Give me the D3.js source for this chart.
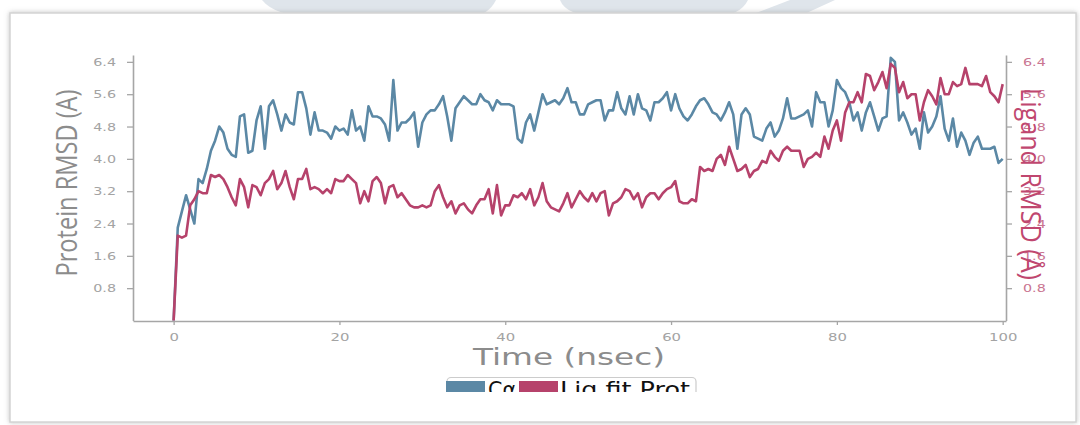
<!DOCTYPE html>
<html>
<head>
<meta charset="utf-8">
<script src="https://cdn.jsdelivr.net/npm/d3@7"></script>
<style>
  html, body { margin: 0; padding: 0; background: #ffffff; }
  svg { display: block; }
</style>
</head>
<body>
<svg id="chart" width="1080" height="425"></svg>
<script>
// Sampling step of the trajectory (nsec)
const timeStep = 0.5;

// C-alpha RMSD, one row per 5 nsec
const caRmsd = [
  0, 2.3, 2.7, 3.1, 2.75, 2.4, 3.5, 3.4, 3.75, 4.2,
  4.45, 4.8, 4.65, 4.25, 4.1, 4.05, 5.05, 5.1, 4.15, 4.2,
  4.95, 5.3, 4.25, 5.3, 5.45, 5.1, 4.7, 5.1, 4.9, 4.85,
  5.65, 5.65, 5.25, 4.6, 5.15, 4.7, 4.7, 4.65, 4.5, 4.8,
  4.7, 4.75, 4.6, 5.2, 4.7, 4.8, 4.45, 5.3, 5.05, 5.05,
  5.0, 4.85, 4.45, 5.95, 4.7, 4.9, 4.9, 5.0, 5.15, 4.3,
  4.9, 5.1, 5.2, 5.2, 5.35, 5.55, 5.05, 4.45, 5.25, 5.4,
  5.55, 5.45, 5.35, 5.35, 5.6, 5.45, 5.4, 5.2, 5.45, 5.35,
  5.35, 5.35, 5.3, 4.5, 4.4, 4.9, 5.1, 4.7, 5.15, 5.6,
  5.35, 5.4, 5.45, 5.35, 5.5, 5.75, 5.4, 5.4, 5.1, 5.1,
  5.35, 5.4, 5.45, 5.45, 4.95, 5.2, 5.2, 5.65, 5.25, 5.1,
  5.55, 5.1, 5.6, 5.25, 5.2, 4.95, 5.4, 5.4, 5.5, 5.65,
  5.2, 5.6, 5.25, 5.05, 4.95, 5.1, 5.3, 5.45, 5.5, 5.35,
  5.15, 5.1, 4.95, 5.15, 5.4, 5.1, 4.25, 5.1, 5.25, 5.1,
  4.55, 4.5, 4.45, 4.75, 4.9, 4.55, 4.7, 5.0, 5.5, 5.0,
  5.0, 5.05, 5.1, 5.2, 4.8, 5.65, 5.4, 5.4, 4.8, 5.2,
  5.95, 5.75, 5.65, 5.4, 4.95, 5.15, 4.7, 5.15, 5.4, 5.05,
  4.7, 5.0, 5.05, 6.5, 6.4, 4.95, 5.15, 4.9, 4.6, 4.75,
  4.25, 5.15, 4.65, 4.8, 5.05, 5.55, 4.75, 4.45, 5.0, 4.3,
  4.65, 4.45, 4.1, 4.4, 4.55, 4.25, 4.25, 4.25, 4.3, 3.9,
  4.0
];

// Ligand RMSD (fit on protein), one row per 5 nsec
const ligRmsd = [
  0, 2.1, 2.05, 2.1, 2.85, 3.0, 3.2, 3.15, 3.15, 3.6,
  3.55, 3.6, 3.5, 3.3, 3.05, 2.85, 3.5, 3.3, 2.8, 3.35,
  3.3, 3.1, 3.4, 3.5, 3.7, 3.25, 3.4, 3.7, 3.3, 3.0,
  3.5, 3.5, 3.75, 3.25, 3.3, 3.25, 3.15, 3.25, 3.15, 3.5,
  3.45, 3.45, 3.6, 3.5, 3.4, 2.9, 3.2, 2.95, 3.45, 3.55,
  3.4, 2.9, 3.3, 3.35, 3.05, 3.15, 3.0, 2.85, 2.8, 2.8,
  2.85, 2.8, 2.85, 3.2, 3.35, 3.05, 2.8, 2.95, 2.65, 2.85,
  2.9, 2.75, 2.65, 2.85, 3.0, 3.0, 3.25, 2.65, 3.35, 2.6,
  2.85, 2.85, 3.1, 3.05, 3.15, 3.0, 3.25, 2.85, 3.05, 3.4,
  2.95, 2.8, 2.75, 2.7, 2.9, 3.15, 2.8, 3.0, 3.2, 3.05,
  2.95, 3.15, 2.95, 3.15, 3.2, 2.6, 2.9, 2.95, 3.05, 3.25,
  3.2, 3.0, 3.15, 2.8, 3.05, 3.15, 3.15, 3.0, 3.15, 3.25,
  3.3, 3.45, 2.95, 2.9, 2.9, 3.0, 2.95, 3.8, 3.7, 3.75,
  3.7, 4.0, 4.1, 3.85, 4.3, 4.0, 3.7, 3.75, 3.85, 3.55,
  3.7, 3.75, 3.95, 3.9, 4.2, 4.05, 3.95, 4.2, 4.3, 4.2,
  4.2, 4.2, 3.8, 4.0, 4.05, 4.15, 4.05, 4.55, 4.25, 4.7,
  4.95, 4.45, 5.15, 5.4, 5.4, 5.65, 5.4, 6.1, 6.05, 5.7,
  5.9, 6.15, 5.75, 6.35, 6.25, 5.65, 5.9, 5.5, 5.6, 5.6,
  4.95, 5.4, 5.7, 5.55, 5.35, 6.0, 5.6, 5.6, 5.9, 5.8,
  5.85, 6.25, 5.85, 5.85, 5.85, 5.8, 6.05, 5.65, 5.55, 5.4,
  5.85
];

const xTicks = [0, 20, 40, 60, 80, 100];
const yTicks = [0.8, 1.6, 2.4, 3.2, 4.0, 4.8, 5.6, 6.4];

const seriesNames = ['C\u03b1', 'Lig fit Prot'];
const blue = '#5b88a5';
const red = '#b6426b';

const svg = d3.select('#chart');

// Stretch text horizontally, the source picture is widened
function stretch(sel, factor) {
  sel.each(function() {
    const len = this.getComputedTextLength();
    d3.select(this)
      .attr('textLength', len * factor)
      .attr('lengthAdjust', 'spacingAndGlyphs');
  });
}

// Faint watermark shapes above the card
const wm = svg.append('g').attr('fill', '#dfe5eb');
wm.append('path').attr('d', 'M262,0 Q275,16 310,16 L470,16 Q488,16 496,0 Z');
wm.append('path').attr('d', 'M560,0 Q566,16 600,16 L715,16 Q740,16 748,0 Z');
wm.append('path').attr('d', 'M748,16 L800,16 L835,0 L790,0 Z');

// Card with soft shadow
const defs = svg.append('defs');
const shadow = defs.append('filter').attr('id', 'shadow')
  .attr('x', '-5%').attr('y', '-5%').attr('width', '110%').attr('height', '110%');
shadow.append('feDropShadow')
  .attr('dx', 0).attr('dy', 0).attr('stdDeviation', 2.5)
  .attr('flood-color', '#9a9a9a').attr('flood-opacity', 0.6);

svg.append('rect')
  .attr('x', 10).attr('y', 13)
  .attr('width', 1066).attr('height', 409)
  .attr('fill', '#ffffff')
  .attr('stroke', '#d4d4d4')
  .attr('stroke-width', 1.5)
  .attr('filter', 'url(#shadow)');

// Scales
const x = d3.scaleLinear().domain([-4.9, 100.4]).range([133, 1006]);
const y = d3.scaleLinear().domain([0, 6.57]).range([320.5, 55]);

const axisColor = '#a6a6a6';

// Left axis
const gLeft = svg.append('g')
  .attr('transform', 'translate(133,0)')
  .call(d3.axisLeft(y).tickValues(yTicks).tickSize(6).tickSizeOuter(0)
    .tickPadding(11).tickFormat(d3.format('.1f')));

// Right axis
const gRight = svg.append('g')
  .attr('transform', 'translate(1006,0)')
  .call(d3.axisRight(y).tickValues(yTicks).tickSize(6).tickSizeOuter(0)
    .tickPadding(11).tickFormat(d3.format('.1f')));

// Bottom axis
const gBottom = svg.append('g')
  .attr('transform', 'translate(0,321)')
  .call(d3.axisBottom(x).tickValues(xTicks).tickSize(4).tickSizeOuter(0)
    .tickPadding(8).tickFormat(d3.format('d')));

[gLeft, gRight, gBottom].forEach(g => {
  g.select('.domain').attr('stroke', axisColor).attr('stroke-width', 1.6);
  g.selectAll('.tick line').attr('stroke', axisColor).attr('stroke-width', 1.3);
  g.selectAll('.tick text')
    .attr('font-family', 'DejaVu Sans')
    .attr('font-size', 11)
    .attr('fill', '#a3a3a3');
});
gRight.selectAll('.tick text').attr('fill', '#c97591');

stretch(gLeft.selectAll('.tick text'), 1.3);
stretch(gRight.selectAll('.tick text'), 1.3);
stretch(gBottom.selectAll('.tick text'), 1.35);

// Lines
const line = d3.line()
  .x((d, i) => x(i * timeStep))
  .y(d => y(d));

svg.append('path')
  .datum(caRmsd)
  .attr('fill', 'none')
  .attr('stroke', blue)
  .attr('stroke-width', 2.6)
  .attr('stroke-linejoin', 'round')
  .attr('d', line);

svg.append('path')
  .datum(ligRmsd)
  .attr('fill', 'none')
  .attr('stroke', red)
  .attr('stroke-width', 2.6)
  .attr('stroke-linejoin', 'round')
  .attr('d', line);

// Axis titles
svg.append('text')
  .attr('transform', 'translate(77,183) rotate(-90)')
  .attr('text-anchor', 'middle')
  .attr('font-family', 'Open Sans')
  .attr('font-size', 30)
  .attr('fill', '#8c8c8c')
  .attr('textLength', 187)
  .attr('lengthAdjust', 'spacingAndGlyphs')
  .text('Protein RMSD (A)');

svg.append('text')
  .attr('transform', 'translate(1021,184) rotate(90)')
  .attr('text-anchor', 'middle')
  .attr('font-family', 'Open Sans')
  .attr('font-size', 27)
  .attr('fill', '#c0476f')
  .attr('textLength', 192)
  .attr('lengthAdjust', 'spacingAndGlyphs')
  .text('Ligand RMSD (\u00c5)');

svg.append('text')
  .attr('x', 569).attr('y', 365)
  .attr('text-anchor', 'middle')
  .attr('font-family', 'DejaVu Sans')
  .attr('font-size', 23)
  .attr('fill', '#8c8c8c')
  .attr('textLength', 192)
  .attr('lengthAdjust', 'spacingAndGlyphs')
  .text('Time (nsec)');

// Legend, cut off at the bottom like the source
defs.append('clipPath').attr('id', 'legendClip')
  .append('rect').attr('x', 430).attr('y', 370).attr('width', 290).attr('height', 22);

const legend = svg.append('g').attr('clip-path', 'url(#legendClip)');

legend.append('rect')
  .attr('x', 447).attr('y', 377.5)
  .attr('width', 249).attr('height', 30)
  .attr('rx', 4)
  .attr('fill', '#ffffff')
  .attr('stroke', '#cccccc')
  .attr('stroke-width', 1.2);

const legendItems = [
  { name: seriesNames[0], color: blue, swatchX: 446, textX: 488, textLen: 28 },
  { name: seriesNames[1], color: red, swatchX: 519, textX: 560, textLen: 130 }
];

legendItems.forEach(d => {
  legend.append('rect')
    .attr('x', d.swatchX).attr('y', 381)
    .attr('width', 39).attr('height', 14)
    .attr('fill', d.color);
  legend.append('text')
    .attr('x', d.textX).attr('y', 397)
    .attr('font-family', 'DejaVu Sans')
    .attr('font-size', 22)
    .attr('fill', '#111111')
    .attr('textLength', d.textLen)
    .attr('lengthAdjust', 'spacingAndGlyphs')
    .text(d.name);
});
</script>
</body>
</html>
